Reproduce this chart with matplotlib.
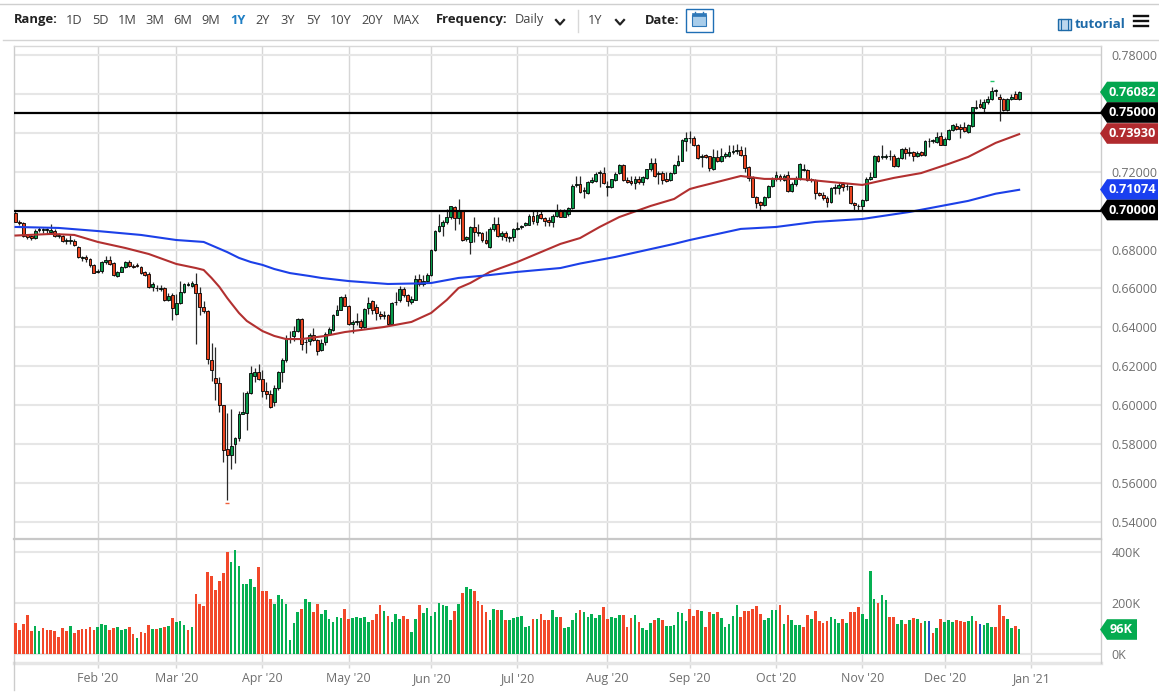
import matplotlib
matplotlib.use('Agg')
import matplotlib.pyplot as plt
from matplotlib.patches import Polygon, Rectangle
import numpy as np

plt.rcParams['font.family'] = ['Open Sans', 'DejaVu Sans']

# daily candles
opens = [0.6988,0.6943,0.6937,0.6875,0.6871,0.6858,0.6901,0.6901,0.6901,0.6892,0.6895,0.6870,0.6871,0.6846,0.6844,0.6844,0.6813,0.6758,0.6763,0.6751,
 0.6719,0.6686,0.6688,0.6734,0.6746,0.6731,0.6664,0.6686,0.6710,0.6738,0.6717,0.6722,0.6712,0.6683,0.6673,0.6607,0.6601,0.6599,0.6601,0.6541,
 0.6566,0.6469,0.6525,0.6582,0.6619,0.6614,0.6621,0.6578,0.6504,0.6484,0.6234,0.6140,0.6115,0.6000,0.5773,0.5742,0.5800,0.5833,0.5957,0.5961,
 0.6063,0.6149,0.6171,0.6133,0.6074,0.6058,0.6017,0.6087,0.6169,0.6231,0.6345,0.6356,0.6381,0.6443,0.6323,0.6328,0.6362,0.6337,0.6282,0.6323,
 0.6368,0.6388,0.6465,0.6491,0.6556,0.6511,0.6419,0.6426,0.6431,0.6402,0.6501,0.6533,0.6504,0.6470,0.6458,0.6462,0.6416,0.6528,0.6539,0.6595,
 0.6564,0.6530,0.6542,0.6650,0.6624,0.6638,0.6667,0.6798,0.6894,0.6923,0.6940,0.6966,0.7021,0.6962,0.6997,0.6855,0.6838,0.6918,0.6887,0.6884,
 0.6850,0.6812,0.6906,0.6930,0.6868,0.6887,0.6860,0.6865,0.6904,0.6915,0.6928,0.6928,0.6971,0.6944,0.6983,0.6964,0.6954,0.6942,0.6973,0.7004,
 0.6969,0.6981,0.7014,0.7130,0.7137,0.7103,0.7092,0.7147,0.7154,0.7192,0.7193,0.7123,0.7120,0.7157,0.7192,0.7236,0.7157,0.7150,0.7144,0.7161,
 0.7145,0.7168,0.7212,0.7243,0.7190,0.7192,0.7161,0.7157,0.7192,0.7233,0.7256,0.7359,0.7371,0.7373,0.7337,0.7277,0.7285,0.7279,0.7214,0.7277,
 0.7255,0.7279,0.7282,0.7303,0.7306,0.7311,0.7285,0.7222,0.7168,0.7072,0.7043,0.7029,0.7072,0.7128,0.7161,0.7180,0.7159,0.7183,0.7103,0.7135,
 0.7162,0.7210,0.7209,0.7157,0.7159,0.7089,0.7080,0.7063,0.7043,0.7116,0.7116,0.7137,0.7125,0.7125,0.7039,0.7022,0.7022,0.7055,0.7162,0.7174,
 0.7282,0.7275,0.7275,0.7279,0.7282,0.7227,0.7268,0.7316,0.7296,0.7299,0.7279,0.7301,0.7285,0.7356,0.7357,0.7354,0.7386,0.7338,0.7366,0.7414,
 0.7436,0.7432,0.7429,0.7402,0.7436,0.7528,0.7547,0.7528,0.7556,0.7573,0.7615,0.7585,0.7576,0.7518,0.7576,0.7598,0.7576]
closes = [0.6943,0.6937,0.6868,0.6863,0.6858,0.6897,0.6904,0.6904,0.6904,0.6902,0.6870,0.6873,0.6844,0.6849,0.6847,0.6822,0.6760,0.6762,0.6751,0.6719,
 0.6679,0.6690,0.6736,0.6745,0.6726,0.6667,0.6685,0.6710,0.6738,0.6717,0.6710,0.6714,0.6678,0.6669,0.6607,0.6625,0.6604,0.6602,0.6541,0.6563,
 0.6498,0.6525,0.6582,0.6621,0.6623,0.6628,0.6578,0.6504,0.6482,0.6236,0.6180,0.6115,0.6000,0.5769,0.5742,0.5790,0.5833,0.5957,0.5964,0.6063,
 0.6163,0.6171,0.6133,0.6074,0.6058,0.5992,0.6087,0.6169,0.6231,0.6339,0.6339,0.6381,0.6443,0.6316,0.6327,0.6361,0.6337,0.6279,0.6320,0.6368,
 0.6393,0.6465,0.6491,0.6556,0.6511,0.6419,0.6429,0.6431,0.6402,0.6496,0.6527,0.6491,0.6474,0.6457,0.6462,0.6416,0.6525,0.6532,0.6598,0.6564,
 0.6535,0.6547,0.6650,0.6624,0.6638,0.6667,0.6798,0.6894,0.6923,0.6944,0.6966,0.7022,0.6962,0.6997,0.6851,0.6862,0.6918,0.6891,0.6891,0.6850,
 0.6833,0.6906,0.6930,0.6868,0.6887,0.6867,0.6863,0.6903,0.6909,0.6920,0.6935,0.6973,0.6945,0.6980,0.6961,0.6947,0.6939,0.6974,0.7004,0.6969,
 0.6997,0.7014,0.7127,0.7139,0.7096,0.7106,0.7147,0.7157,0.7188,0.7197,0.7142,0.7127,0.7161,0.7190,0.7236,0.7157,0.7147,0.7144,0.7161,0.7147,
 0.7171,0.7212,0.7243,0.7180,0.7193,0.7159,0.7152,0.7192,0.7233,0.7256,0.7364,0.7373,0.7374,0.7337,0.7270,0.7280,0.7275,0.7217,0.7277,0.7255,
 0.7279,0.7289,0.7299,0.7306,0.7309,0.7287,0.7219,0.7168,0.7072,0.7041,0.7029,0.7072,0.7128,0.7162,0.7181,0.7161,0.7180,0.7103,0.7137,0.7168,
 0.7239,0.7214,0.7157,0.7161,0.7089,0.7079,0.7063,0.7046,0.7116,0.7120,0.7132,0.7123,0.7128,0.7041,0.7029,0.7026,0.7055,0.7162,0.7174,0.7282,
 0.7253,0.7279,0.7279,0.7282,0.7227,0.7268,0.7318,0.7296,0.7299,0.7279,0.7296,0.7285,0.7359,0.7359,0.7361,0.7379,0.7338,0.7369,0.7414,0.7439,
 0.7419,0.7419,0.7410,0.7439,0.7532,0.7532,0.7530,0.7556,0.7573,0.7617,0.7619,0.7573,0.7518,0.7576,0.7586,0.7576,0.7608]
highs = [0.7000,0.6954,0.6940,0.6882,0.6877,0.6906,0.6916,0.6913,0.6913,0.6931,0.6906,0.6883,0.6875,0.6861,0.6875,0.6854,0.6817,0.6765,0.6774,0.6755,
 0.6726,0.6700,0.6743,0.6769,0.6765,0.6734,0.6691,0.6717,0.6743,0.6746,0.6724,0.6731,0.6717,0.6690,0.6683,0.6635,0.6618,0.6618,0.6606,0.6577,
 0.6577,0.6572,0.6640,0.6628,0.6635,0.6640,0.6679,0.6607,0.6538,0.6487,0.6320,0.6299,0.6145,0.6000,0.5961,0.5983,0.5838,0.5971,0.6068,0.6074,
 0.6200,0.6193,0.6210,0.6180,0.6120,0.6080,0.6103,0.6176,0.6245,0.6359,0.6380,0.6407,0.6448,0.6448,0.6342,0.6371,0.6397,0.6342,0.6342,0.6376,
 0.6402,0.6470,0.6513,0.6559,0.6569,0.6515,0.6436,0.6474,0.6445,0.6501,0.6556,0.6539,0.6521,0.6484,0.6484,0.6467,0.6530,0.6581,0.6615,0.6607,
 0.6573,0.6559,0.6667,0.6675,0.6667,0.6679,0.6803,0.6901,0.6983,0.6950,0.7009,0.7026,0.7026,0.7060,0.7000,0.6872,0.6923,0.6966,0.6932,0.6889,
 0.6897,0.6915,0.6969,0.6969,0.6894,0.6894,0.6872,0.6909,0.6940,0.6926,0.6944,0.6983,0.7000,0.6997,0.7000,0.6969,0.6966,0.6983,0.7034,0.7009,
 0.7009,0.7021,0.7137,0.7180,0.7180,0.7120,0.7154,0.7171,0.7197,0.7209,0.7226,0.7154,0.7164,0.7197,0.7239,0.7239,0.7171,0.7180,0.7180,0.7180,
 0.7180,0.7215,0.7270,0.7270,0.7205,0.7205,0.7197,0.7197,0.7239,0.7287,0.7368,0.7403,0.7410,0.7385,0.7342,0.7292,0.7291,0.7282,0.7316,0.7313,
 0.7320,0.7303,0.7337,0.7337,0.7342,0.7330,0.7325,0.7227,0.7180,0.7077,0.7051,0.7077,0.7132,0.7171,0.7205,0.7188,0.7188,0.7205,0.7145,0.7180,
 0.7243,0.7239,0.7214,0.7166,0.7162,0.7094,0.7094,0.7074,0.7123,0.7137,0.7149,0.7145,0.7142,0.7128,0.7046,0.7034,0.7060,0.7171,0.7197,0.7285,
 0.7285,0.7337,0.7291,0.7313,0.7291,0.7274,0.7323,0.7328,0.7328,0.7308,0.7306,0.7308,0.7364,0.7371,0.7368,0.7402,0.7405,0.7376,0.7419,0.7444,
 0.7448,0.7444,0.7453,0.7443,0.7535,0.7569,0.7573,0.7573,0.7590,0.7636,0.7624,0.7598,0.7581,0.7581,0.7598,0.7615,0.7617]
lows = [0.6940,0.6926,0.6863,0.6854,0.6851,0.6854,0.6889,0.6883,0.6882,0.6889,0.6866,0.6859,0.6841,0.6830,0.6829,0.6817,0.6755,0.6739,0.6738,0.6710,
 0.6678,0.6678,0.6678,0.6724,0.6721,0.6662,0.6661,0.6683,0.6707,0.6710,0.6703,0.6709,0.6673,0.6666,0.6604,0.6589,0.6585,0.6585,0.6537,0.6537,
 0.6438,0.6465,0.6520,0.6577,0.6614,0.6609,0.6313,0.6465,0.6474,0.6214,0.6125,0.6026,0.5966,0.5710,0.5513,0.5670,0.5704,0.5817,0.5954,0.5875,
 0.6057,0.6120,0.6128,0.6043,0.6034,0.5985,0.5995,0.6080,0.6120,0.6222,0.6320,0.6328,0.6376,0.6286,0.6268,0.6308,0.6330,0.6256,0.6279,0.6308,
 0.6359,0.6381,0.6462,0.6487,0.6508,0.6410,0.6371,0.6410,0.6393,0.6398,0.6467,0.6470,0.6436,0.6445,0.6445,0.6410,0.6410,0.6513,0.6530,0.6556,
 0.6508,0.6521,0.6539,0.6615,0.6615,0.6633,0.6662,0.6795,0.6889,0.6872,0.6932,0.6957,0.6901,0.6932,0.6846,0.6846,0.6778,0.6838,0.6872,0.6838,
 0.6829,0.6809,0.6897,0.6863,0.6850,0.6843,0.6838,0.6843,0.6901,0.6906,0.6923,0.6925,0.6932,0.6927,0.6956,0.6923,0.6923,0.6918,0.6966,0.6966,
 0.6966,0.6974,0.7009,0.7120,0.7089,0.7065,0.7086,0.7140,0.7145,0.7120,0.7137,0.7077,0.7115,0.7150,0.7188,0.7150,0.7140,0.7133,0.7111,0.7137,
 0.7133,0.7162,0.7205,0.7174,0.7137,0.7137,0.7149,0.7154,0.7188,0.7231,0.7253,0.7308,0.7350,0.7333,0.7265,0.7222,0.7268,0.7205,0.7210,0.7251,
 0.7251,0.7268,0.7274,0.7291,0.7291,0.7279,0.7197,0.7154,0.7068,0.7012,0.7005,0.7026,0.7067,0.7123,0.7154,0.7154,0.7154,0.7098,0.7098,0.7128,
 0.7159,0.7203,0.7154,0.7145,0.7060,0.7074,0.7056,0.7021,0.7039,0.7086,0.7086,0.7103,0.7108,0.7034,0.7005,0.7005,0.7000,0.7050,0.7159,0.7171,
 0.7248,0.7265,0.7265,0.7262,0.7224,0.7222,0.7265,0.7265,0.7282,0.7256,0.7274,0.7279,0.7282,0.7325,0.7350,0.7345,0.7337,0.7337,0.7362,0.7410,
 0.7414,0.7373,0.7402,0.7398,0.7432,0.7521,0.7525,0.7504,0.7547,0.7569,0.7590,0.7462,0.7514,0.7514,0.7569,0.7573,0.7569]

# volume in thousands, and the kind of each bar: d down, u up, b blue
volumes = [120,94,117,152,89,107,89,100,93,94,89,66,100,89,108,83,94,96,96,104,
 93,104,116,111,94,99,103,93,98,104,76,60,85,81,112,98,96,102,103,109,
 141,124,128,113,93,104,236,195,188,319,306,249,287,315,400,360,406,343,272,272,
 294,261,339,246,246,215,194,229,214,195,55,121,164,177,214,203,162,195,155,171,
 136,124,145,141,176,137,139,145,141,143,124,133,155,192,169,147,126,155,137,147,
 137,86,137,189,159,181,149,162,198,190,188,134,168,195,237,261,254,246,206,190,
 163,132,176,173,172,134,133,141,142,146,104,109,136,137,155,134,133,173,145,145,
 102,106,134,160,171,164,145,155,141,152,184,137,143,138,152,152,104,138,150,126,
 100,94,120,134,138,133,107,109,111,163,160,129,176,149,173,169,104,165,154,163,
 138,104,115,149,189,143,167,167,176,186,155,132,139,172,172,192,116,152,133,112,
 112,103,151,136,168,130,119,128,143,137,121,136,119,164,164,184,155,136,324,215,
 197,229,210,145,145,117,132,117,133,139,136,122,129,130,81,100,137,126,133,126,
 132,128,124,129,146,129,116,111,120,103,106,190,149,136,102,109,96]
vol_side = ''.join([
    'ddddduuddd', 'dddduddddd', 'duuudduuud', 'dudddududu', 'duuududddd',
    'ddddduuuuu', 'uudddduuuu', 'uuuduudduu', 'uuuudduuuu', 'uddduduuud',
    'duuduuuuuu', 'uududuuddd', 'duududuuuu', 'uududdduud', 'uuuuduuuuu',
    'dduuudddud', 'uuududuuuu', 'uudddudd' 'ud', 'uuuuuddddd', 'duuuududuu',
    'uddudddduu', 'ududdduuuu', 'duudduudud', 'udubduduuu', 'ddduudbuuu',
    'ddduudu'])

# moving averages, sampled along the lines
ma_red_idx = [0,9,15,21,28,34,41,46,48,50,52,54,55,57,59,61,63,66,69,73,79,84,94,101,106,110,113,116,121,128,139,144,149,154,162,168,170,172,174,177,185,191,200,208,216,224,231,238,243,250,256]
ma_red = [0.6872,0.6880,0.6875,0.6839,0.6808,0.6777,0.6726,0.6705,0.6695,0.6654,0.6608,0.6551,0.6525,0.6474,0.6433,0.6407,0.6381,0.6356,0.6340,0.6340,0.6356,0.6376,0.6402,0.6428,0.6474,0.6541,0.6602,0.6628,0.6685,0.6736,0.6829,0.6859,0.6916,0.6967,0.7024,0.7060,0.7086,0.7111,0.7122,0.7137,0.7178,0.7163,0.7163,0.7147,0.7132,0.7168,0.7193,0.7240,0.7276,0.7348,0.7393]
ma_blue_idx = [0,11,21,32,41,48,51,54,57,60,63,66,70,75,78,85,95,103,106,113,121,128,139,144,153,168,172,185,194,204,216,228,243,250,256]
ma_blue = [0.6916,0.6911,0.6895,0.6875,0.6849,0.6839,0.6813,0.6787,0.6757,0.6736,0.6721,0.6700,0.6679,0.6664,0.6654,0.6638,0.6623,0.6626,0.6628,0.6654,0.6669,0.6685,0.6705,0.6728,0.6762,0.6829,0.6849,0.6906,0.6916,0.6942,0.6957,0.6993,0.7050,0.7087,0.7107]

price_ticks = [0.54,0.56,0.58,0.60,0.62,0.64,0.66,0.68,0.70,0.72,0.74,0.76,0.78]
hidden_ticks = [0.70,0.74,0.76]  # covered by the value tags
vol_ticks = [0,200,400]
month_idx = [21,41,63,85,106,128,151,172,194,216,237,259]
month_labels = ["Feb '20","Mar '20","Apr '20","May '20","Jun '20","Jul '20","Aug '20","Sep '20","Oct '20","Nov '20","Dec '20","Jan '21"]
levels = [0.75,0.70]
range_labels = ['1D','5D','1M','3M','6M','9M','1Y','2Y','3Y','5Y','10Y','20Y','MAX']
range_x = [74,100,127,155,183,211,238,263,288,313,341,372,406]

W, H = 1159, 697
RED = '#e8431f'
GREEN = '#069a4a'
TXT = '#6e6e6e'
GRID = '#e6e6e6'
VGRID = '#d6d6d6'

opens, closes, highs, lows = map(np.array, (opens, closes, highs, lows))
volumes = np.array(volumes)
idx = np.arange(len(closes))

fig = plt.figure(figsize=(W/100, H/100), dpi=100)

def panel(left, top, right, bottom):
    return fig.add_axes([left/W, 1-bottom/H, (right-left)/W, (bottom-top)/H])

ax = panel(13.5, 46, 1100.7, 538.7)
ax2 = panel(13.5, 538.7, 1100.7, 662.7)

for a in (ax, ax2):
    a.set_xlim(-0.51, 276.8)
    a.set_xticks(month_idx)
    a.grid(True, axis='x', color=VGRID, lw=1.0)
    a.grid(True, axis='y', color=GRID, lw=1.5)
    a.set_axisbelow(True)
    a.yaxis.tick_right()
    for s in ('top', 'bottom'):
        a.spines[s].set_visible(False)
    for s in ('left', 'right'):
        a.spines[s].set_color('#cccccc')
        a.spines[s].set_linewidth(1.0)

# candles
ax.set_ylim(0.5314, 0.7846)
ax.set_yticks(price_ticks)
ax.set_yticklabels(['' if p in hidden_ticks else '%.5f' % p for p in price_ticks], fontsize=8.9, color=TXT)
ax.tick_params(axis='y', length=0, pad=8)
ax.tick_params(axis='x', length=0, labelbottom=False)

ax.vlines(idx, lows, highs, color='#2a2a2a', lw=0.9, zorder=2)
up = closes >= opens
ax.bar(idx, closes-opens, bottom=opens, width=0.72,
       color=[GREEN if u else RED for u in up], edgecolor='black', linewidth=0.6, zorder=3)
ax.plot(ma_red_idx, ma_red, color='#b23030', lw=1.5, zorder=4, solid_joinstyle='round')
ax.plot(ma_blue_idx, ma_blue, color='#1c40e8', lw=1.5, zorder=4, solid_joinstyle='round')
ax.hlines(levels, -0.51, 276.8, color='black', lw=1.6, zorder=5)
ax.plot([249], [0.7666], marker='_', ms=2.5, color='#22c46a', zorder=5)
ax.plot([54], [0.5497], marker='_', ms=2.5, color='#f0603a', zorder=5)

# volume
ax2.set_ylim(-35.4, 451)
ax2.set_yticks(vol_ticks)
ax2.set_yticklabels(['%dK' % v for v in vol_ticks], fontsize=8.9, color=TXT)
ax2.tick_params(axis='y', length=0, pad=8)
side_col = {'d': '#f2482a', 'u': '#05b052', 'b': '#2350c8'}
ax2.bar(idx, volumes, width=0.68, color=[side_col[s] for s in vol_side], zorder=3)
ax2.set_xticklabels(month_labels, fontsize=8.9, color=TXT)
ax2.tick_params(axis='x', length=3.6, color=VGRID, width=1.0, pad=3)
ax2.axhline(-35.4, color=GRID, lw=2.5, clip_on=False)

# page furniture drawn in pixel coordinates on top
ui = fig.add_axes([0, 0, 1, 1], zorder=10)
ui.set_xlim(0, W)
ui.set_ylim(H, 0)
ui.axis('off')

ui.plot([0, W], [3.5, 3.5], color='#cfcfcf', lw=1)
ui.plot([3, W], [39.5, 39.5], color='#d4d4d4', lw=1)
ui.plot([13.5, 1100.7], [45.7, 45.7], color='#d8d8d8', lw=1)
ui.plot([13.5, 1100.7], [538.7, 538.7], color='#c8c8c8', lw=1.6)
ui.plot([13.5, 13.5], [662, 690], color='#cccccc', lw=1)

ui.text(14, 20, 'Range:', fontsize=9.4, fontweight='bold', color='#222222', va='center')
for lab, xp in zip(range_labels, range_x):
    sel = lab == '1Y'
    ui.text(xp, 21, lab, fontsize=9.2, ha='center', va='center',
            color='#1f7fc4' if sel else '#444444', fontweight='bold' if sel else 'normal')
ui.text(436, 20, 'Frequency:', fontsize=9.4, fontweight='bold', color='#222222', va='center')
ui.text(515, 20, 'Daily', fontsize=9.2, color='#444444', va='center')
ui.plot([578, 578], [10, 32], color='#d8d8d8', lw=1)
ui.text(588, 20, '1Y', fontsize=9.2, color='#444444', va='center')
ui.text(645, 20, 'Date:', fontsize=9.4, fontweight='bold', color='#222222', va='center')
for cx in (560, 620):
    ui.plot([cx-4, cx, cx+4], [20, 24.5, 20], color='#222222', lw=1.6)

ui.add_patch(Rectangle((685.5, 8.5), 27, 23, fc='white', ec='#1f6fb5', lw=1))
ui.add_patch(Rectangle((692, 15), 14, 11, fc='#a9cdea', ec='#2f78b8', lw=0.8))
ui.add_patch(Rectangle((692, 13), 14, 3, fc='#2f78b8', ec='#2f78b8', lw=0.5))
for cx in (695, 703):
    ui.plot([cx, cx], [11.5, 14], color='#2f78b8', lw=1)

ui.add_patch(Rectangle((1058, 19), 13, 10.5, fc='#bcd7ee', ec='#1d6aa8', lw=1))
for cx in (1061, 1068):
    ui.plot([cx, cx], [19, 29.5], color='#1d6aa8', lw=0.8)
ui.text(1075, 24.5, 'tutorial', fontsize=9.6, fontweight='bold', color='#1d6aa8', va='center')
for yy in (16, 21, 26):
    ui.plot([1134, 1148], [yy, yy], color='#111111', lw=1.7)

def tag(yc, txt, col, x1=1158, xt=1132):
    h = 10.3
    ui.add_patch(Polygon([(1100, yc), (1107, yc-h), (x1, yc-h), (x1, yc+h), (1107, yc+h)], fc=col, ec='none'))
    ui.text(xt, yc, txt, color='white', fontsize=9.2, fontweight='bold', ha='center', va='center')

tag(92, '0.76082', '#03a64f')
tag(112.5, '0.75000', '#000000')
tag(133.5, '0.73930', '#b02a2e')
tag(189.5, '0.71074', '#1a3ff0')
tag(210, '0.70000', '#000000')
tag(629.5, '96K', '#05ab50', x1=1137, xt=1121)

fig.savefig('out.png', dpi=100)
